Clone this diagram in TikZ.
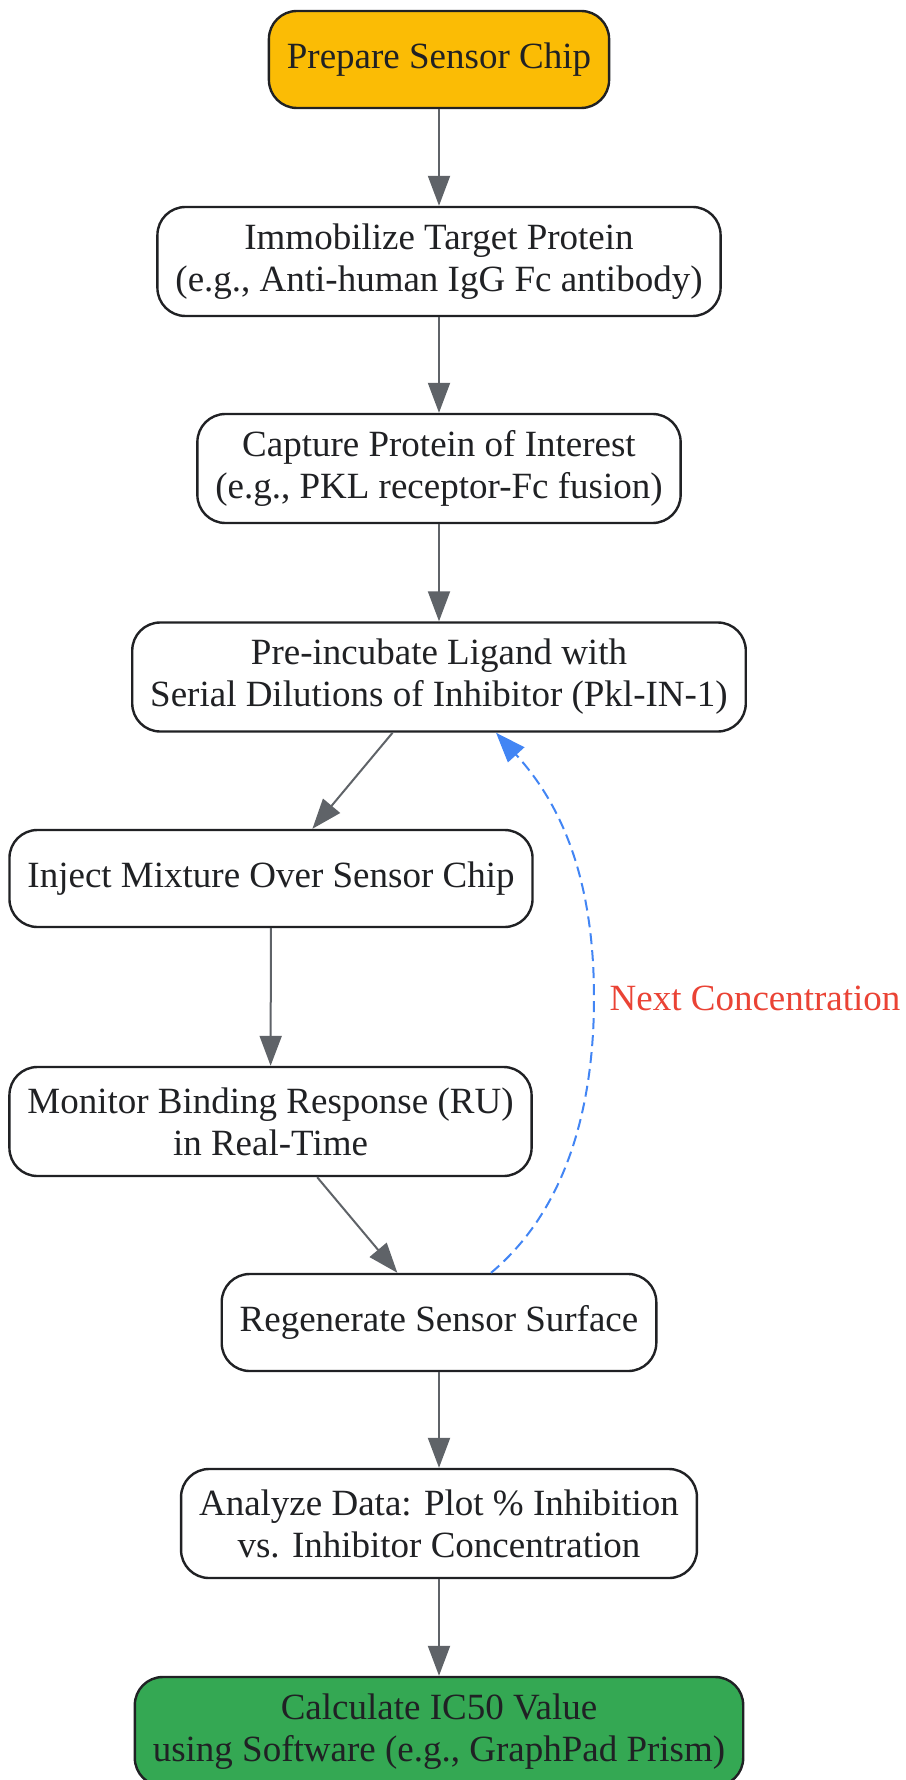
\documentclass[tikz,border=0pt]{standalone}
\usepackage{fontspec}
\setmainfont{Liberation Serif}
\usetikzlibrary{arrows.meta}
\definecolor{chipyellow}{HTML}{FBBC05}
\definecolor{calcgreen}{HTML}{34A853}
\definecolor{loopblue}{HTML}{4285F4}
\definecolor{loopred}{HTML}{EA4335}
\definecolor{edgegray}{HTML}{5F6368}
\definecolor{boxline}{HTML}{202124}
\begin{document}
\begin{tikzpicture}[x=0.5pt,y=-0.5pt,
        stepbox/.style={draw=boxline,line width=1.2pt,rounded corners=14pt,fill=white,
            align=center,inner xsep=9pt,text=boxline,
            font=\fontsize{18.5}{21}\selectfont},
        onebox/.style={stepbox,minimum height=48.5pt},
        twobox/.style={stepbox,minimum height=54.5pt},
        flow/.style={draw=edgegray,line width=1pt,-{Triangle[length=15pt,width=11pt]}}]
        \useasboundingbox (0,0) rectangle (905,1780);
        %% steps
        \node[onebox,fill=chipyellow] (prep) at (439,59.5) {Prepare Sensor Chip};
        \node[twobox] (immob) at (439,261.5) {Immobilize Target Protein\\(e.g., Anti-human IgG Fc antibody)};
        \node[twobox] (capt) at (439,468.5) {Capture Protein of Interest\\(e.g., PKL receptor-Fc fusion)};
        \node[twobox] (preinc) at (439,677) {Pre-incubate Ligand with\\Serial Dilutions of Inhibitor (Pkl-IN-1)};
        \node[onebox] (inject) at (271,878.5) {Inject Mixture Over Sensor Chip};
        \node[twobox] (monit) at (270.5,1121.5) {Monitor Binding Response (RU)\\in Real-Time};
        \node[onebox] (regen) at (439,1322.5) {Regenerate Sensor Surface};
        \node[twobox] (analyze) at (439,1523.5) {Analyze Data: Plot \% Inhibition\\vs. Inhibitor Concentration};
        \node[twobox,fill=calcgreen] (calc) at (439,1731.5) {Calculate IC50 Value\\using Software (e.g., GraphPad Prism)};
        %% arrows
        \draw[flow] (prep) -- (immob);
        \draw[flow] (immob) -- (capt);
        \draw[flow] (capt) -- (preinc);
        \draw[flow] (preinc) -- (inject);
        \draw[flow] (inject) -- (monit);
        \draw[flow] (monit) -- (regen);
        \draw[flow] (regen) -- (analyze);
        \draw[flow] (analyze) -- (calc);
        %% loop back
        \draw[loopblue,line width=1pt,dash pattern=on 5.5pt off 3pt,-{Triangle[length=15pt,width=11pt]}]
            ([xshift=26pt]regen.north) .. controls (572,1205) and (594,1095) .. (594,998)
            node[anchor=west,text=loopred,font=\fontsize{18.5}{21}\selectfont,xshift=4pt] (next) {Next Concentration}
            .. controls (594,880) and (562,805) .. ([xshift=28.5pt]preinc.south);
\end{tikzpicture}
\end{document}
